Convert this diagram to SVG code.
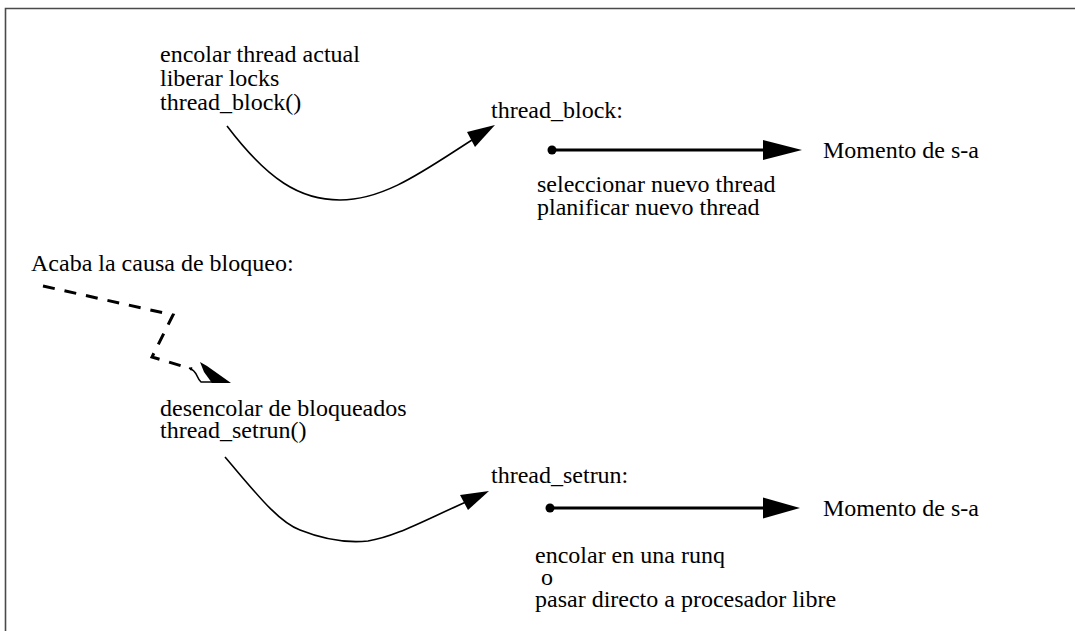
<svg xmlns="http://www.w3.org/2000/svg" width="1075" height="631" viewBox="0 0 1075 631">
  <defs>
    <style>
      text { font-family: "Liberation Serif", "Times New Roman", serif; font-size: 24px; fill: #000; }
      .frame { fill: none; stroke: #4a4a4a; stroke-width: 1.6; }
      .curve { fill: none; stroke: #000; stroke-width: 1.6; }
      .timeline { fill: none; stroke: #000; stroke-width: 3; }
      .dashed { fill: none; stroke: #000; stroke-width: 3; stroke-dasharray: 12 10; }
      .head { fill: #000; stroke: none; }
    </style>
  </defs>

  <rect width="1075" height="631" fill="#fff"/>

  <!-- clipped page frame: only top and left edges are visible -->
  <path class="frame" d="M5.5,631 L5.5,8.5 L1075,8.5"/>

  <!-- block: caller side -->
  <g id="block-caller">
    <text x="160" y="62">encolar thread actual</text>
    <text x="160" y="86">liberar locks</text>
    <text x="160" y="110">thread_block()</text>
  </g>

  <!-- block: routine -->
  <g id="block-routine">
    <text x="491" y="118">thread_block:</text>
    <text x="537" y="192">seleccionar nuevo thread</text>
    <text x="537" y="215">planificar nuevo thread</text>
  </g>
  <g id="block-momento">
    <text x="823" y="158">Momento de s-a</text>
  </g>

  <!-- wake-up event -->
  <g id="wakeup">
    <text x="31" y="271">Acaba la causa de bloqueo:</text>
  </g>

  <!-- setrun: caller side -->
  <g id="setrun-caller">
    <text x="160" y="416">desencolar de bloqueados</text>
    <text x="160" y="438">thread_setrun()</text>
  </g>

  <!-- setrun: routine -->
  <g id="setrun-routine">
    <text x="491" y="483">thread_setrun:</text>
    <text x="535" y="563">encolar en una runq</text>
    <text x="541" y="585">o</text>
    <text x="535" y="607">pasar directo a procesador libre</text>
  </g>
  <g id="setrun-momento">
    <text x="823" y="516">Momento de s-a</text>
  </g>

  <g id="connectors">
    <!-- call into thread_block -->
    <path class="curve" d="M227,126 C268,180 300,200 340,200 C385,200 425,170 472,140"/>
    <polygon class="head" points="495,125 467,132 475,147"/>

    <!-- thread_block timeline -->
    <circle cx="552" cy="150" r="4.5" fill="#000"/>
    <path class="timeline" d="M555,150 L765,150"/>
    <polygon class="head" points="802,150 763,140 763,160"/>

    <!-- wake-up dashed path -->
    <path class="dashed" d="M43,286 L173,315 L152,357 L192,369"/>
    <path class="curve" d="M189,368 C198,371 196,378 201,382 L214,382" stroke-width="2.4"/>
    <polygon class="head" points="200,362 207,366 231,383 212,383 204,372"/>

    <!-- call into thread_setrun -->
    <path class="curve" d="M225,457 C255,492 278,522 300,530 C325,540 348,543 368,541 C395,537 425,520 466,502"/>
    <polygon class="head" points="489,491 460,495 468,510"/>

    <!-- thread_setrun timeline -->
    <circle cx="550" cy="508" r="4.5" fill="#000"/>
    <path class="timeline" d="M553,508 L765,508"/>
    <polygon class="head" points="800,508 763,497.5 763,518.5"/>
  </g>
</svg>
